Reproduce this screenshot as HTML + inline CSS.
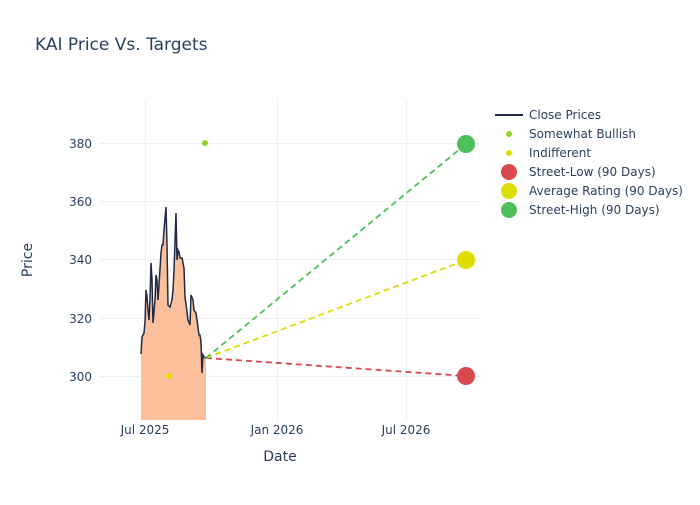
<!DOCTYPE html><html><head><style>body{margin:0;background:#fff}text{font-family:"DejaVu Sans",sans-serif;fill:#2a3f5f}</style></head><body>
<svg width="700" height="500" xmlns="http://www.w3.org/2000/svg">
<rect width="700" height="500" fill="#fff"/>
<text x="35" y="50" font-size="17">KAI Price Vs. Targets</text>
<g stroke="#ebf0f8" stroke-width="1">
<line x1="100" x2="480" y1="143.5" y2="143.5"/><line x1="100" x2="480" y1="201.5" y2="201.5"/><line x1="100" x2="480" y1="259.5" y2="259.5"/><line x1="100" x2="480" y1="318.5" y2="318.5"/><line x1="100" x2="480" y1="376.5" y2="376.5"/>
<line x1="145.5" x2="145.5" y1="100" y2="420"/><line x1="277.5" x2="277.5" y1="100" y2="420"/><line x1="406.5" x2="406.5" y1="100" y2="420"/>
</g>
<g font-size="12" text-anchor="end"><text x="92" y="148">380</text><text x="92" y="206">360</text><text x="92" y="264">340</text><text x="92" y="323">320</text><text x="92" y="381">300</text></g>
<g font-size="12" text-anchor="middle"><text x="145" y="434">Jul 2025</text><text x="277" y="434">Jan 2026</text><text x="406" y="434">Jul 2026</text></g>
<text x="280" y="461" font-size="14" text-anchor="middle">Date</text>
<text x="32" y="260" font-size="14" text-anchor="middle" transform="rotate(-90 32 260)">Price</text>
<polygon fill="#fbbf9c" points="141,420 141,354 142,337 144,333 145,322 146,290 147,297 148,310 149,320 150,300 151,263 152,280 153,323 155,300 156,275 157,280 158,300 159,285 161,253 162,245 163,245 164,230 166,207 167,245 168,305 170,307 172,300 173,290 174,270 176,213 177,260 178,250 179,252 180,258 181,258 182,258 184,268 185,297 186,304 188,320 190,325 191,295 193,300 194,310 196,313 197,320 199,335 200,335 201,342 202,373 203,355 204,357 206,358 206,420"/>
<polyline fill="none" stroke="#1f2a44" stroke-width="1.5" points="141,354 142,337 144,333 145,322 146,290 147,297 148,310 149,320 150,300 151,263 152,280 153,323 155,300 156,275 157,280 158,300 159,285 161,253 162,245 163,245 164,230 166,207 167,245 168,305 170,307 172,300 173,290 174,270 176,213 177,260 178,250 179,252 180,258 181,258 182,258 184,268 185,297 186,304 188,320 190,325 191,295 193,300 194,310 196,313 197,320 199,335 200,335 201,342 202,373 203,355 204,357 206,358"/>
<g stroke-width="1.8" stroke-dasharray="6,4" fill="none">
<line x1="206" y1="358" x2="466" y2="376" stroke="#d9474f"/>
<line x1="206" y1="358" x2="466" y2="260" stroke="#dddd00"/>
<line x1="206" y1="358" x2="466" y2="144" stroke="#4cc15a"/>
</g>
<circle cx="205" cy="143" r="3" fill="#8fd32a"/>
<circle cx="169" cy="376" r="3" fill="#dddd00"/>
<circle cx="466" cy="376" r="9" fill="#d9474f"/>
<circle cx="466" cy="260" r="9" fill="#dddd00"/>
<circle cx="466" cy="144" r="9" fill="#4cc15a"/>
<g font-size="12">
<line x1="495" x2="523" y1="115" y2="115" stroke="#1f2a44" stroke-width="2"/><text x="529" y="119">Close Prices</text>
<circle cx="509" cy="134" r="3" fill="#8fd32a"/><text x="529" y="138">Somewhat Bullish</text>
<circle cx="509" cy="153" r="3" fill="#dddd00"/><text x="529" y="157">Indifferent</text>
<circle cx="509" cy="172" r="8" fill="#d9474f"/><text x="529" y="176">Street-Low (90 Days)</text>
<circle cx="509" cy="191" r="8" fill="#dddd00"/><text x="529" y="195">Average Rating (90 Days)</text>
<circle cx="509" cy="210" r="8" fill="#4cc15a"/><text x="529" y="214">Street-High (90 Days)</text>
</g>
</svg></body></html>
